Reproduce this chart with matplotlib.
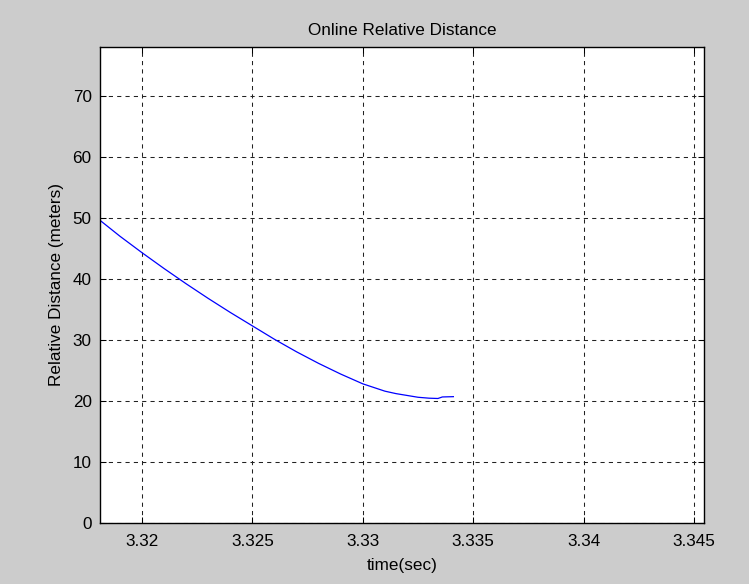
import matplotlib
matplotlib.use("Agg")
import matplotlib.pyplot as plt

# sampled trace of the online relative distance estimate
time_sec = [3.3181, 3.3190, 3.3200, 3.3210, 3.3220, 3.3230, 3.3240, 3.3250,
            3.3260, 3.3270, 3.3280, 3.3290, 3.3300, 3.3310, 3.3315, 3.3320,
            3.3325, 3.3330, 3.3334, 3.3336, 3.3341]
distance_m = [49.6, 47.0, 44.3, 41.7, 39.2, 36.8, 34.5, 32.3,
              30.1, 28.05, 26.15, 24.4, 22.8, 21.6, 21.2, 20.9,
              20.6, 20.45, 20.4, 20.65, 20.7]

x_ticks = [3.32, 3.325, 3.33, 3.335, 3.34, 3.345]
x_tick_labels = ["3.32", "3.325", "3.33", "3.335", "3.34", "3.345"]
y_ticks = [0, 10, 20, 30, 40, 50, 60, 70]

plt.rcParams["font.family"] = ["Liberation Sans", "DejaVu Sans"]
plt.rcParams["font.size"] = 12.3

fig = plt.figure(figsize=(7.49, 5.84), dpi=100, facecolor="#cccccc")
ax = fig.add_axes([0.1335, 0.1045, 0.8065, 0.815])
ax.set_facecolor("white")

ax.plot(time_sec, distance_m, color="#0000ff", linewidth=0.9)

ax.set_xlim(3.3181, 3.34545)
ax.set_ylim(0, 78)
ax.set_xticks(x_ticks)
ax.set_xticklabels(x_tick_labels)
ax.set_yticks(y_ticks)

ax.grid(True, color="#222222", linestyle=(0, (4, 4)), linewidth=0.75)
ax.tick_params(direction="in", length=4, top=True, right=True,
               labelsize=12.3, width=0.75)
ax.tick_params(axis="x", pad=8)
ax.tick_params(axis="y", pad=6)
for spine in ax.spines.values():
    spine.set_linewidth(1.0)
    spine.set_color("black")

ax.set_title("Online Relative Distance", fontsize=12.3, pad=9)
ax.set_xlabel("time(sec)", fontsize=12.3, labelpad=6.5)
ax.set_ylabel("Relative Distance (meters)", fontsize=12.3, labelpad=6)

fig.savefig("out.png", dpi=100, facecolor=fig.get_facecolor())
plt.close(fig)
